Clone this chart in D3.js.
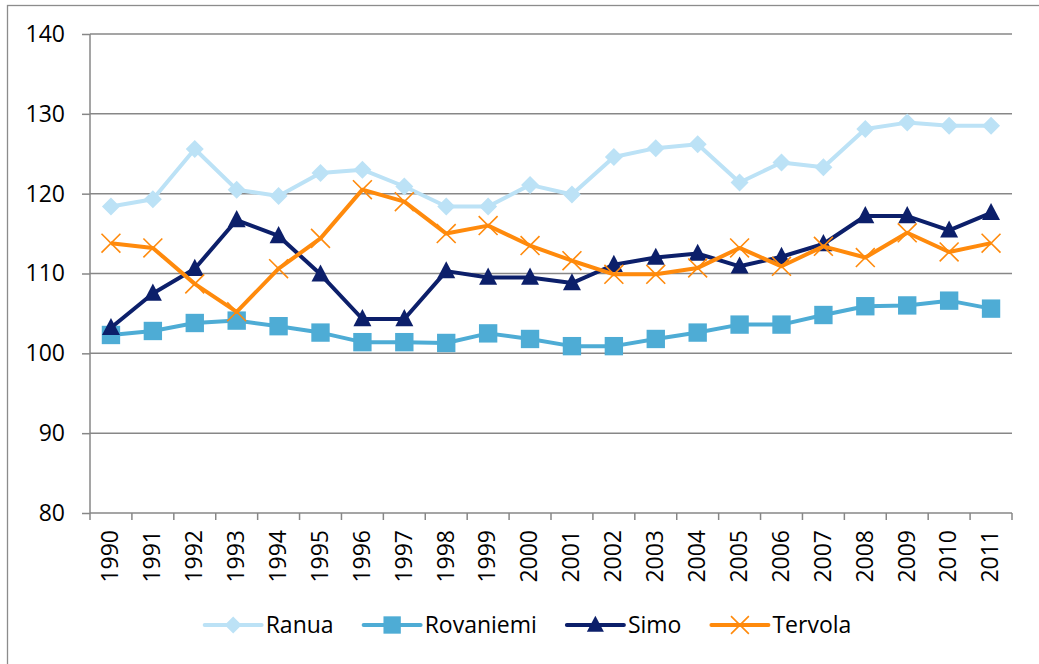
<!DOCTYPE html>
<html>
<head>
<meta charset="utf-8">
<script src="https://cdn.jsdelivr.net/npm/d3@7"></script>
<style>
  body { margin: 0; background: #fff; }
  svg { display: block; }
</style>
</head>
<body>
<div id="chart"></div>
<script>
// data
var years = ["1990", "1991", "1992", "1993", "1994", "1995", "1996", "1997", "1998", "1999", "2000",
             "2001", "2002", "2003", "2004", "2005", "2006", "2007", "2008", "2009", "2010", "2011"];

var ranua      = [118.4, 119.3, 125.6, 120.5, 119.7, 122.6, 123.0, 120.9, 118.4, 118.4, 121.1,
                  119.9, 124.6, 125.7, 126.2, 121.4, 123.9, 123.3, 128.1, 128.9, 128.5, 128.5];
var rovaniemi  = [102.3, 102.8, 103.8, 104.1, 103.4, 102.6, 101.4, 101.4, 101.3, 102.5, 101.8,
                  100.9, 100.9, 101.8, 102.6, 103.6, 103.6, 104.8, 105.9, 106.0, 106.6, 105.6];
var simo       = [103.2, 107.5, 110.6, 116.7, 114.7, 109.9, 104.3, 104.3, 110.3, 109.5, 109.5,
                  108.8, 111.1, 112.0, 112.5, 110.9, 112.1, 113.7, 117.2, 117.2, 115.4, 117.6];
var tervola    = [113.8, 113.2, 108.7, 105.2, 110.6, 114.4, 120.5, 119.0, 115.0, 116.0, 113.5,
                  111.6, 109.9, 109.9, 110.7, 113.2, 110.9, 113.4, 112.0, 115.1, 112.7, 113.8];

var seriesNames = ["Ranua", "Rovaniemi", "Simo", "Tervola"];
var yTicks = [80, 90, 100, 110, 120, 130, 140];

var series = [
    {name: seriesNames[0], values: ranua,     color: "#bce2f6", marker: "diamond"},
    {name: seriesNames[1], values: rovaniemi, color: "#4eacd5", marker: "square"},
    {name: seriesNames[2], values: simo,      color: "#0c1f6a", marker: "triangle"},
    {name: seriesNames[3], values: tervola,   color: "#ff8a0c", marker: "cross"}
];

var W = 1039, H = 664;
var margin = {top: 34, right: 27, bottom: 151, left: 90};
var width = W - margin.left - margin.right,
    height = H - margin.top - margin.bottom;

var svg = d3.select("#chart").append("svg")
    .attr("width", W)
    .attr("height", H);

// chart area border (runs off the right / bottom edge like the reference)
svg.append("rect")
    .attr("x", 7.5).attr("y", 5.5)
    .attr("width", W + 20).attr("height", H + 20)
    .attr("fill", "none")
    .attr("stroke", "#8c8c8c")
    .attr("stroke-width", 1.3);

var g = svg.append("g")
    .attr("transform", "translate(" + margin.left + "," + margin.top + ")");

var x = d3.scaleBand().domain(years).range([0, width]).padding(0);
var y = d3.scaleLinear().domain([80, 140]).range([height, 0]);

var axisColor = "#878787";

// gridlines
g.append("g")
    .selectAll("line")
    .data(yTicks.filter(function(d) { return d > 80; }))
    .enter().append("line")
    .attr("x1", 0).attr("x2", width)
    .attr("y1", function(d) { return y(d); })
    .attr("y2", function(d) { return y(d); })
    .attr("stroke", axisColor)
    .attr("stroke-width", 1.5);

// y axis
var yAxis = d3.axisLeft(y).tickValues(yTicks).tickSize(8).tickPadding(17);
var yg = g.append("g").call(yAxis);
yg.select(".domain").remove();
yg.selectAll(".tick line").attr("stroke", axisColor).attr("stroke-width", 1.5);
yg.selectAll(".tick text")
    .attr("fill", "#000")
    .style("font-family", "'Open Sans', sans-serif")
    .style("font-size", "23px");
g.append("line")
    .attr("x1", 0).attr("x2", 0).attr("y1", 0).attr("y2", height)
    .attr("stroke", axisColor).attr("stroke-width", 1.5);

// x axis: labels at band centres, ticks at band edges
var xAxis = d3.axisBottom(x).tickSize(0).tickPadding(0);
var xg = g.append("g")
    .attr("transform", "translate(0," + height + ")")
    .call(xAxis);
xg.select(".domain").remove();
xg.selectAll(".tick text")
    .attr("fill", "#000")
    .attr("transform", "translate(-1,17) rotate(-90)")
    .attr("dy", "0.36em")
    .attr("text-anchor", "end")
    .style("font-family", "'Open Sans', sans-serif")
    .style("font-size", "23px");

g.append("line")
    .attr("x1", 0).attr("x2", width).attr("y1", height).attr("y2", height)
    .attr("stroke", axisColor).attr("stroke-width", 1.5);
g.append("g")
    .selectAll("line")
    .data(years.concat(["end"]))
    .enter().append("line")
    .attr("x1", function(d, i) { return i * x.bandwidth(); })
    .attr("x2", function(d, i) { return i * x.bandwidth(); })
    .attr("y1", height).attr("y2", height + 7)
    .attr("stroke", axisColor).attr("stroke-width", 1.5);

// marker drawing
function drawMarker(sel, type, color, s) {
    if (type === "diamond") {
        sel.append("path")
            .attr("d", "M0," + (-s) + "L" + s + ",0L0," + s + "L" + (-s) + ",0Z")
            .attr("fill", color);
    } else if (type === "square") {
        var h = s * 1.02;
        sel.append("rect")
            .attr("x", -h).attr("y", -h).attr("width", 2 * h).attr("height", 2 * h)
            .attr("fill", color);
    } else if (type === "triangle") {
        sel.append("path")
            .attr("d", "M0," + (-s * 1.1) + "L" + s + "," + (s * 0.8) + "L" + (-s) + "," + (s * 0.8) + "Z")
            .attr("fill", color);
    } else {
        var c = s * 1.05;
        sel.append("path")
            .attr("d", "M" + (-c) + "," + (-c) + "L" + c + "," + c + "M" + c + "," + (-c) + "L" + (-c) + "," + c)
            .attr("stroke", color)
            .attr("stroke-width", 1.6)
            .attr("fill", "none");
    }
}

var line = d3.line()
    .x(function(d, i) { return x(years[i]) + x.bandwidth() / 2; })
    .y(function(d) { return y(d); });

series.forEach(function(s) {
    var sg = g.append("g").attr("class", "series");
    sg.append("path")
        .datum(s.values)
        .attr("d", line)
        .attr("fill", "none")
        .attr("stroke", s.color)
        .attr("stroke-width", 4)
        .attr("stroke-linejoin", "round");

    sg.selectAll(".mark")
        .data(s.values)
        .enter().append("g")
        .attr("class", "mark")
        .attr("transform", function(d, i) {
            return "translate(" + (x(years[i]) + x.bandwidth() / 2) + "," + y(d) + ")";
        })
        .each(function() { drawMarker(d3.select(this), s.marker, s.color, 9); });
});

// legend
var legend = svg.append("g");
var lx = 0, legY = 625;
series.forEach(function(s) {
    var it = legend.append("g").attr("transform", "translate(" + lx + "," + legY + ")");
    it.append("line")
        .attr("x1", 0).attr("x2", 57).attr("y1", 0).attr("y2", 0)
        .attr("stroke", s.color).attr("stroke-width", 4).attr("stroke-linecap", "round");
    var mk = it.append("g").attr("transform", "translate(28.5,0)");
    drawMarker(mk, s.marker, s.color, 8.5);
    var t = it.append("text")
        .attr("x", 61)
        .attr("dy", "0.36em")
        .style("font-family", "'Open Sans', sans-serif")
        .style("font-size", "23px")
        .attr("fill", "#000")
        .text(s.name);
    lx += 61 + t.node().getComputedTextLength() + 30;
});
var legW = lx - 30;
legend.attr("transform", "translate(" + (528 - legW / 2) + ",0)");
</script>
</body>
</html>
